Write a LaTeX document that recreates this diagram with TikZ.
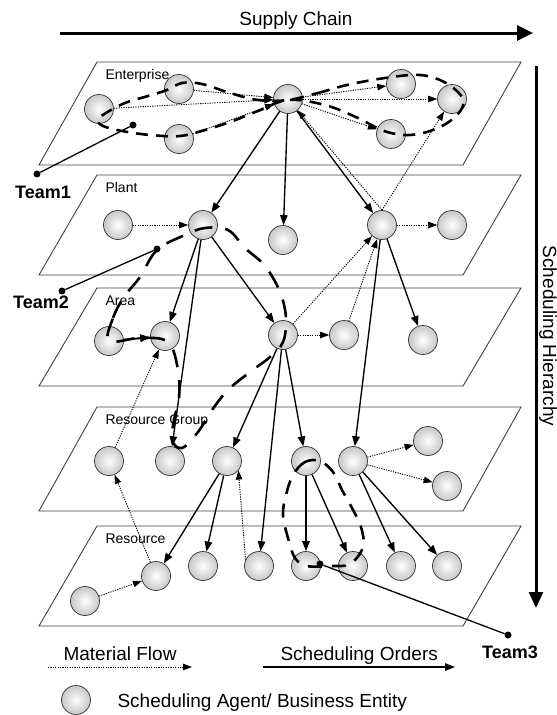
\documentclass[tikz,border=0pt]{standalone}
\usepackage{fontspec}
\setmainfont{Liberation Sans}
\usetikzlibrary{arrows.meta}

\begin{document}
\begin{tikzpicture}[x=1pt, y=-1pt,
    agent/.style={circle, draw=black!80, line width=0.7pt, inner color=white, outer color=black!22, minimum size=29pt, inner sep=0pt},
    order/.style={line width=1.35pt, -{Triangle[length=10pt, width=7.5pt]}},
    flow/.style={line width=0.9pt, dash pattern=on 1.2pt off 1.2pt, -{Triangle[length=9pt, width=6.5pt]}},
    plane/.style={draw=black!75, line width=0.9pt},
    tier/.style={anchor=base west, font=\fontsize{14}{16}\selectfont},
    team/.style={line width=2.6pt, dash pattern=on 12pt off 8pt},
    teamdot/.style={circle, fill, inner sep=0pt, minimum size=7pt},
    teamlabel/.style={font=\bfseries\fontsize{18}{20}\selectfont},
    bigtext/.style={font=\fontsize{19}{22}\selectfont}]
\useasboundingbox (0,0) rectangle (557,715);

% axes
\node[bigtext] (sc) at (296,21) {Supply Chain};
\coordinate (sc0) at (60,33);
\coordinate (sc1) at (533,33);
\draw[line width=3pt, -{Triangle[length=16pt, width=15pt]}] (sc0) -- (sc1);
\node[bigtext, rotate=-90] (sh) at (548,336) {Scheduling Hierarchy};
\coordinate (sh0) at (536,66);
\coordinate (sh1) at (536,608);
\draw[line width=3pt, -{Triangle[length=16pt, width=14pt]}] (sh0) -- (sh1);

% planes
\foreach \t/\b in {62/165, 175/275, 288/386, 407/511, 526/626}
  \draw[plane] (97,\t) -- (521,\t) -- (463,\b) -- (39,\b) -- cycle;
\node[tier] at (102,79) {Enterprise};
\node[tier] at (102,192) {Plant};
\node[tier] at (102,305) {Area};
\node[tier] at (102,424) {Resource Group};
\node[tier] at (102,543) {Resource};

% agents
\node[agent] (eA) at (99,109) {};
\node[agent] (eB) at (179,89) {};
\node[agent] (eC) at (179,139) {};
\node[agent] (eD) at (288,99) {};
\node[agent] (eE) at (401,84) {};
\node[agent] (eF) at (452,99) {};
\node[agent] (eG) at (391,134) {};

\node[agent] (pA) at (118,225) {};
\node[agent] (pB) at (203,225) {};
\node[agent] (pC) at (283,240) {};
\node[agent] (pD) at (382,225) {};
\node[agent] (pE) at (452,225) {};

\node[agent] (aA) at (109,341) {};
\node[agent] (aB) at (165,336) {};
\node[agent] (aC) at (283,335) {};
\node[agent] (aD) at (344,335) {};
\node[agent] (aE) at (423,340) {};

\node[agent] (gA) at (109,461) {};
\node[agent] (gB) at (170,461) {};
\node[agent] (gC) at (227,461) {};
\node[agent] (gD) at (306,461) {};
\node[agent] (gE) at (353,461) {};
\node[agent] (gF) at (428,441) {};
\node[agent] (gG) at (447,486) {};

\node[agent] (rA) at (85,601) {};
\node[agent] (rB) at (156,576) {};
\node[agent] (rC) at (203,566) {};
\node[agent] (rD) at (259,566) {};
\node[agent] (rE) at (306,566) {};
\node[agent] (rF) at (353,566) {};
\node[agent] (rG) at (401,566) {};
\node[agent] (rH) at (447,566) {};

% material flow
\draw[flow] (eA) -- (eD);
\draw[flow] (eB) -- (eD);
\draw[flow] (eC) -- (eD);
\draw[flow] (eD) -- (eE);
\draw[flow] (eD) -- (eF);
\draw[flow] (eD) -- (eG);
\draw[flow] (pD.north) -- (eD);
\draw[flow] (pD.north) -- (eF);
\draw[flow] (pA) -- (pB);
\draw[flow] (pD) -- (pE);
\draw[flow] (aC) -- (pD);
\draw[flow] (aD) -- (pD);
\draw[flow] (aC) -- (aD);
\draw[flow] (gA) -- (aB);
\draw[flow] (rB) -- (gA);
\draw[flow] (rA) -- (rB);
\draw[flow] (rD.155) -- (gC.-40);
\draw[flow] (gE) -- (gF);
\draw[flow] (gE) -- (gG);

% scheduling orders
\draw[order] (eD) -- (pB);
\draw[order] (eD) -- (pC);
\draw[order] (eD) -- (pD);
\draw[order] (pB) -- (aB);
\draw[order] (pB) -- (aC);
\draw[order] (pB) -- (gB);
\draw[order] (pD) -- (aE);
\draw[order] (pD) -- (gE);
\draw[order, line width=2pt] (aA) -- (aB);
\draw[order] (aC) -- (gC);
\draw[order] (aC) -- (rD);
\draw[order] (aC) -- (gD);
\draw[order] (gC) -- (rB);
\draw[order] (gC) -- (rC);
\draw[order] (gD) -- (rE);
\draw[order] (gD) -- (rF);
\draw[order] (gE) -- (rG);
\draw[order] (gE) -- (rH);

% teams
\draw[team] plot[smooth cycle, tension=0.6] coordinates {(288,100) (318,93) (347,85) (385,78) (420,75) (446,83) (463,99) (458,114) (438,128) (410,135) (384,131) (358,118) (325,105) (288,100) (258,111) (230,122) (205,130) (180,136) (150,135) (122,131) (103,126) (98,120) (106,113) (125,103) (148,96) (167,90) (182,83) (202,84) (230,93) (258,100)};
\draw[team, dash pattern=on 18pt off 13pt] plot[smooth cycle, tension=0.6] coordinates {(109,341) (113,318) (124,297) (140,277) (157,250) (185,235) (205,228) (228,230) (245,248) (265,266) (280,292) (286,318) (283,342) (270,357) (250,372) (228,390) (212,410) (198,432) (182,448) (172,440) (174,420) (179,398) (178,370) (168,342) (140,338)};
\draw[team, dash pattern=on 14pt off 10pt] plot[smooth cycle, tension=0.6] coordinates {(320,461) (305,462) (293,475) (286,495) (283,515) (288,538) (295,558) (307,566) (330,566) (350,564) (363,547) (361,527) (352,508) (342,490) (333,472)};

\node[teamdot] (t1a) at (133,125) {};
\node[teamdot] (t1b) at (37,174) {};
\draw[line width=1.3pt] (t1a) -- (t1b);
\node[teamlabel] at (43,192) {Team1};
\node[teamdot] (t2a) at (157,249) {};
\node[teamdot] (t2b) at (62,291) {};
\draw[line width=1.3pt] (t2a) -- (t2b);
\node[teamlabel] at (41,302) {Team2};
\node[teamdot] (t3a) at (320,564) {};
\node[teamdot] (t3b) at (508,635) {};
\draw[line width=1.3pt] (t3a) -- (t3b);
\node[teamlabel] at (510,652) {Team3};

% legend
\node[bigtext, anchor=base west] at (60,660) {Material Flow};
\coordinate (mf0) at (48,667);
\coordinate (mf1) at (192,667);
\draw[flow] (mf0) -- (mf1);
\node[bigtext, anchor=base west] at (277,660) {Scheduling Orders};
\coordinate (so0) at (263,667);
\coordinate (so1) at (455,667);
\draw[order] (so0) -- (so1);
\node[agent] (key) at (76,700) {};
\node[bigtext, anchor=base west] at (114,707) {Scheduling Agent/ Business Entity};
\end{tikzpicture}
\end{document}
